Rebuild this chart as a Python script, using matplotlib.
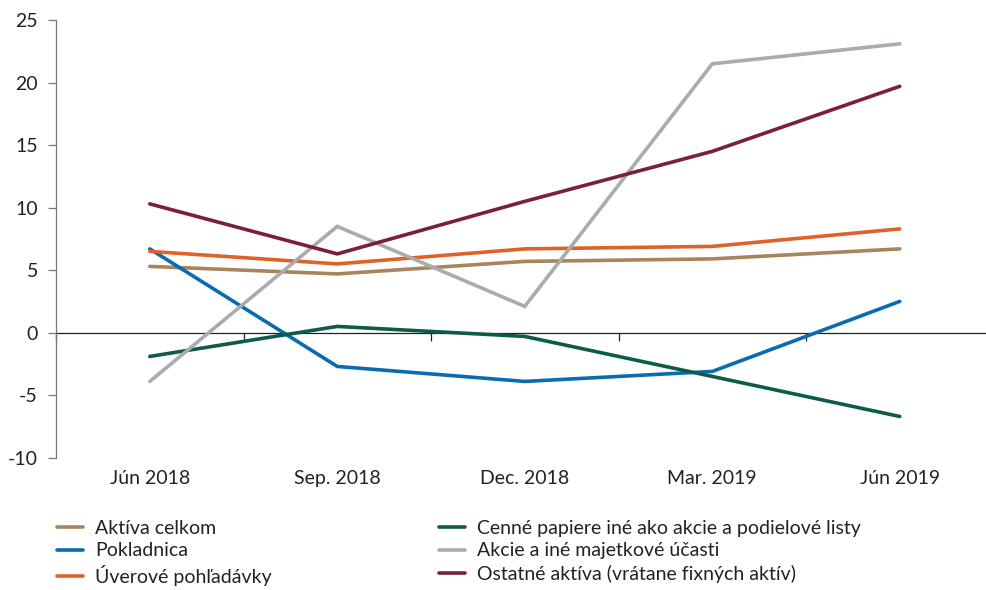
import numpy as np
import matplotlib
matplotlib.use("Agg")
import matplotlib.pyplot as plt

# ======================
# Data
# ======================
quarters = ["Jún 2018", "Sep. 2018", "Dec. 2018", "Mar. 2019", "Jún 2019"]

aktiva_celkom = [5.3, 4.7, 5.7, 5.9, 6.7]
pokladnica = [6.7, -2.7, -3.9, -3.1, 2.5]
uverove = [6.5, 5.5, 6.7, 6.9, 8.3]
cenne_papiere = [-1.9, 0.5, -0.3, -3.5, -6.7]
akcie = [-3.9, 8.5, 2.1, 21.5, 23.1]
ostatne = [10.3, 6.3, 10.5, 14.5, 19.7]

series = [
    ("Aktíva celkom", aktiva_celkom, "#A8845C"),
    ("Pokladnica", pokladnica, "#0A6BB0"),
    ("Úverové pohľadávky", uverove, "#DF6228"),
    ("Cenné papiere iné ako akcie a podielové listy", cenne_papiere, "#0E5B4B"),
    ("Akcie a iné majetkové účasti", akcie, "#A8ACAE"),
    ("Ostatné aktíva (vrátane fixných aktív)", ostatne, "#7A1F3E"),
]

y_ticks = [-10, -5, 0, 5, 10, 15, 20, 25]

# ======================
# Plot
# ======================
plt.rcParams.update({
    "font.family": ["Lato", "DejaVu Sans"],
    "font.size": 14,
    "text.color": "#222222",
    "axes.unicode_minus": False,
})

fig = plt.figure(figsize=(9.86, 5.9), dpi=100)
ax = fig.add_axes([0.0568, 0.2242, 0.9432, 0.7418])

x = np.arange(len(quarters))
for label, vals, color in series:
    ax.plot(x, vals, color=color, linewidth=2.6, label=label,
            solid_capstyle="round", solid_joinstyle="miter")

ax.set_xlim(-0.5, 4.46)
ax.set_ylim(-10, 25)
ax.set_yticks(y_ticks)
ax.set_xticks(x)
ax.set_xticklabels(quarters)
ax.tick_params(axis="x", length=0, pad=9, colors="#222222")
ax.tick_params(axis="y", length=6, width=0.9, color="#777777", pad=7,
               labelcolor="#222222")

for side in ["top", "right", "bottom"]:
    ax.spines[side].set_visible(False)
ax.spines["left"].set_color("#777777")
ax.spines["left"].set_linewidth(0.9)

# zero line with small ticks between the quarters
sec = ax.secondary_xaxis(10 / 35)
sec.set_xticks(np.arange(-0.5, 4, 1.0))
sec.set_xticklabels([])
sec.tick_params(length=5.5, width=0.9, color="#222222")
sec.spines["bottom"].set_color("#222222")
sec.spines["bottom"].set_linewidth(0.9)

fig.legend(loc="upper left", bbox_to_anchor=(57 / 986, 1 - 520 / 590), ncol=2,
           frameon=False, borderpad=0, borderaxespad=0,
           handlelength=1.35, handletextpad=0.6,
           columnspacing=8.6, labelspacing=0.28, fontsize=14)

fig.savefig("out.png", dpi=100)
